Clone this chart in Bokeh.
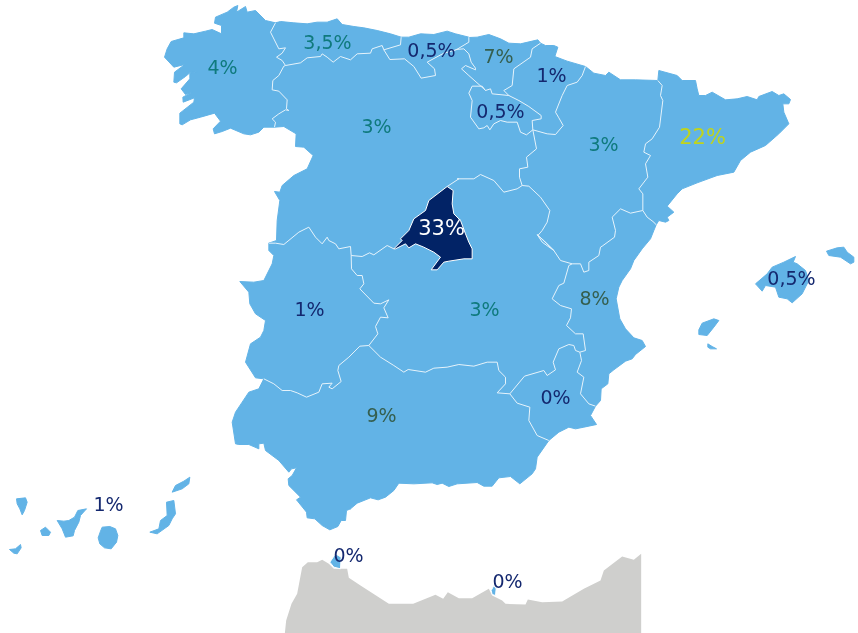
from bokeh.embed import file_html
from bokeh.resources import INLINE
from bokeh.plotting import figure
from bokeh.models import ColumnDataSource, Range1d
from bokeh.core.properties import value

def frame(ox, oy):
    return lambda pts: [(ox + a / 3, oy + b / 3) for a, b in pts]

Z1, Z2, Z3, Z4, Z5, Z6 = frame(150, 0), frame(450, 20), frame(220, 220), frame(500, 230), frame(0, 460), frame(220, 440)

def rev(s):
    return s[::-1]

# ---- coasts and frontiers
coast_gal = Z1([(372,380),(340,380),(325,395),(300,403),(280,400),(240,383),(215,393),(192,400),(188,385),(210,362),(192,338),(150,350),(120,358),(95,373),(88,370),(88,338),(130,305),(132,292),(98,305),(97,290),(125,275),(105,282),(92,265),(118,235),(118,218),(142,213),(118,217),(105,228),(78,247),(70,245),(72,215),(103,192),(70,200),(42,170),(50,145),(62,123),(100,112),(100,97),(130,100),(165,92),(185,87),(213,100),(213,75),(192,68),(195,50),(230,35),(250,20),(262,15),(258,35),(285,18),(290,35),(315,30),(345,60),(375,67)])
gal_ast = Z1([(375,67),(360,95),(385,145),(405,142),(395,158),(378,170),(395,180),(405,195)])
gal_cyl = Z1([(405,195),(400,197),(385,225),(367,240),(365,268),(385,272),(410,298),(408,325),(415,330),(405,328),(385,340),(365,355),(375,365),(372,380)])
coast_ast = Z1([(375,67),(390,63),(430,67),(470,70),(500,65),(530,65),(560,55),(575,72),(610,78),(640,82),(680,90),(720,100),(752,110)])
ast_can = Z1([(752,110),(750,133),(700,148)])
ast_cyl = Z1([(700,148),(695,135),(665,145),(660,158),(620,160),(600,178),(570,168),(548,185),(530,170),(515,160),(510,168),(470,172),(450,187),(405,195)])
coast_can = Z1([(752,110),(775,110),(810,100),(850,102),(890,92),(915,100),(955,110)])
can_bas = Z1([(955,110),(955,125),(917,148)])
can_cyl = Z1([(917,148),(880,158),(830,185),(852,205),(855,225),(812,233),(790,198),(762,175),(718,177),(700,148)])
coast_bas = Z2([(55,51),(80,50),(115,42),(150,55),(175,68),(210,70),(262,58),(270,68)])
bas_nav = Z2([(270,68),(245,85),(240,110),(190,145),(185,195),(160,210),(175,225)])
bas_rio = Z2([(175,225),(125,220),(120,205),(105,210)])
bas_cyl = Z2([(105,210),(100,205),(55,165),(33,145),(45,135),(75,148),(75,143),(62,125),(55,100),(40,85),(15,87)])
coast_nav = Z2([(270,68),(285,75),(310,75),(322,80),(313,108),(350,122),(405,138)])
nav_ara = Z2([(405,138),(395,165),(380,185),(350,195),(335,225),(315,275),(325,292),(338,315),(315,342),(290,340),(247,328)])
nav_rio = Z2([(175,225),(205,240),(235,258),(272,285),(272,295),(245,300),(247,328)])
rio_cyl = Z2([(247,328),(228,343),(210,335),(200,305),(170,305),(150,300),(130,310),(118,328),(110,315),(100,322),(85,325),(60,290),(65,240),(55,218),(65,197),(95,197),(105,210)])
coast_ara = Z2([(405,138),(430,158),(465,165),(475,155),(510,178),(555,178),(622,180)])
ara_cat = Z2([(622,180),(635,195),(630,225),(637,240),(627,320),(605,355),(585,370),(580,395),(600,405),(585,430),(592,470),(565,505),(577,520),(577,570)])
ara_val = Z2([(577,570),(540,578),(510,565),(485,590),(495,630),(492,650),(455,677)]) + Z4([(300,50),(295,75),(265,95),(265,120),(250,125),(240,100),(215,100)])
ara_clm = Z4([(215,100),(180,90),(160,60),(125,35),(110,12)]) + Z2([(310,690),(280,660),(262,645),(275,630),(290,605),(298,570),(270,530),(235,497),(215,495)])
ara_cyl = Z2([(215,495),(207,470),(207,445),(232,440),(228,410),(258,385),(247,328)])
cyl_clm2 = Z1([(890,558),(925,535)]) + Z2([(20,475),(70,475),(90,462),(130,480),(160,515),(200,505),(215,495)])
mad_west = Z1([(890,558),(835,600),(825,630),(790,655),(775,690),(750,715)]) + Z3([(545,60),(520,85)])
mad_east = Z1([(890,558),(908,570),(905,610),(910,640),(930,660)]) + Z3([(735,40),(745,65),(755,85),(755,115),(730,115),(685,122),(670,125),(650,148),(632,148),(660,110),(640,95),(610,80),(585,70),(565,82),(555,70),(525,85),(520,85)])
cyl_clm1 = Z3([(392,105),(425,108),(447,97),(460,103),(500,75),(520,85)])
ext_cyl = Z3([(392,105),(390,78),(355,85),(345,70),(325,60),(320,50),(305,70),(285,50),(265,20),(235,35),(190,72),(165,68),(145,68)])
ext_clm = Z3([(392,105),(393,145),(410,165),(425,165),(430,190),(418,205),(460,248),(480,250),(505,238),(490,262),(503,292),(480,290),(465,318),(472,340),(445,375)])
ext_and = Z3([(445,375),(418,377),(385,410),(355,435),(352,450),(362,483),(335,505),(325,500),(335,488),(305,490),(295,515),(258,530),(230,517),(210,510),(185,510),(160,490),(130,475)])
ext_por = Z3([(145,68),(145,90),(160,105),(155,130),(130,180),(100,185),(58,183),(85,215),(88,250),(105,280),(135,300),(130,330),(120,350),(90,370),(75,425),(105,472),(130,475)])
cyl_por = Z1([(372,380),(400,378),(437,400),(435,438),(460,440),(488,465),(470,505),(430,525),(395,555),(388,575),(372,573),(388,600),(380,660),(378,720)]) + Z3([(145,68)])
and_clm = Z3([(445,375),(480,410),(520,435),(550,455),(563,447),(615,455),(640,443),(680,440),(715,432),(760,437),(800,425),(830,425),(835,450),(855,470),(855,490),(830,517),(868,520)])
coast_and = Z3([(130,475),(115,505),(85,515),(65,545),(45,575),(35,605),(45,670),(55,672),(85,672),(115,685),(115,670),(130,668),(135,690),(175,720)]) + Z6([(205,95),(213,85),(228,82),(215,105),(203,115),(205,135),(240,170),(228,178),(258,215),(260,232),(283,235),(305,255),(328,268),(352,258),(362,240),(375,240),(378,210),(390,205),(375,198),(390,205),(410,188),(450,172),(473,178),(495,170),(520,150),(535,128),(580,130),(635,127),(650,132),(665,128),(685,138),(710,130),(770,126),(790,137),(815,137),(835,112),(870,108),(898,130),(935,100),(945,85),(950,50),(985,0)])
and_mur = Z4([(145,630),(110,615),(85,570),(88,530),(50,518),(28,490)])
clm_mur = Z4([(28,490),(72,437),(130,420),(140,435),(165,418),(158,395),(175,355),(205,342),(220,345),(225,360),(238,365)])
clm_val = Z4([(215,100),(205,105),(190,158),(175,165),(155,205),(180,225),(213,235),(210,262),(198,285),(225,310),(248,310),(255,360),(238,365)])
mur_val = Z4([(238,365),(243,390),(230,425),(250,440),(240,490),(265,520),(285,527)])
coast_mur = Z4([(285,527),(270,555),(288,582),(250,590),(225,595),(205,590),(175,605),(145,630)])
coast_val = Z4([(285,527),(300,510),(302,475),(322,460),(325,430),(340,418),(375,392),(395,385),(405,372),(435,348),(425,330),(400,322),(375,295),(358,265),(347,205),(355,170),(365,150),(390,115),(400,90),(425,55),(450,25),(460,0)]) + Z2([(617,613)])
cat_val = Z2([(617,613),(610,605),(590,590),(577,570)])
coast_cat = Z2([(622,180),(625,150),(680,165),(695,180),(735,180),(740,205),(745,225),(765,225),(785,215),(825,238),(860,235),(890,228),(920,238),(925,228),(965,213),(985,225),(1000,220),(1020,237),(1015,250),(997,250),(1000,275),(1015,310),(985,340),(945,375),(900,395),(870,420),(850,455),(800,465),(740,487),(695,505),(680,520),(650,557),(670,575),(650,590),(655,600),(645,605),(625,600),(617,613)])

# ---- regions built from the shared frontiers
regions = {
    "Galicia": coast_gal + gal_ast + gal_cyl,
    "Asturias": coast_ast + ast_can + ast_cyl + rev(gal_ast),
    "Cantabria": coast_can + can_bas + can_cyl + rev(ast_can),
    "Pais Vasco": coast_bas + bas_nav + bas_rio + bas_cyl + rev(can_bas),
    "Navarra": coast_nav + nav_ara + rev(nav_rio) + rev(bas_nav),
    "La Rioja": rev(bas_rio) + nav_rio + rio_cyl,
    "Aragon": coast_ara + ara_cat + ara_val + ara_clm + ara_cyl + rev(nav_ara),
    "Cataluna": coast_cat + cat_val + rev(ara_cat),
    "Castilla y Leon": cyl_por + rev(ext_cyl) + cyl_clm1 + rev(mad_west) + cyl_clm2 + ara_cyl + rio_cyl + bas_cyl + can_cyl + ast_cyl + gal_cyl,
    "Castilla-La Mancha": rev(cyl_clm2) + mad_east + rev(cyl_clm1) + ext_clm + and_clm + clm_mur + rev(clm_val) + ara_clm,
    "Extremadura": ext_clm + ext_and + rev(ext_por) + rev(ext_cyl),
    "Andalucia": coast_and + and_mur + rev(and_clm) + ext_and,
    "Murcia": clm_mur + mur_val + coast_mur + and_mur,
    "Valencia": ara_val + clm_val + mur_val + coast_val + cat_val,
    "Mallorca": Z4([(765,160),(800,130),(815,110),(850,95),(885,78),(878,95),(890,100),(915,120),(925,150),(905,190),(875,217),(860,205),(835,200),(825,170),(795,165),(785,182)]),
    "Menorca": Z4([(978,62),(1010,52),(1030,50),(1040,65),(1060,80),(1060,95),(1050,100),(1020,80),(985,75)]),
    "Ibiza": Z4([(595,298),(605,278),(640,265),(655,270),(640,290),(620,315),(595,312)]),
    "Formentera": Z4([(622,340),(635,348),(648,355),(630,355),(622,350)]),
    "La Palma": Z5([(48,115),(75,112),(80,125),(72,150),(65,163),(58,145),(50,130)]),
    "El Hierro": Z5([(27,267),(45,265),(60,252),(62,262),(50,280),(40,278)]),
    "La Gomera": Z5([(120,210),(135,200),(150,215),(145,225),(125,225)]),
    "Tenerife": Z5([(170,180),(190,182),(205,180),(222,170),(232,150),(258,145),(240,165),(235,185),(222,210),(218,226),(195,230),(185,205)]),
    "Gran Canaria": Z5([(293,232),(300,212),(305,200),(328,198),(345,205),(352,225),(348,245),(332,265),(312,262),(298,250)]),
    "Fuerteventura": Z5([(448,215),(475,205),(480,180),(500,165),(498,125),(520,120),(525,160),(515,175),(505,195),(470,220)]),
    "Lanzarote": Z5([(515,95),(525,75),(550,62),(568,50),(565,70),(545,85)]),
}
ceuta = Z6([(328,365),(345,340),(362,350),(360,385),(340,380)])
melilla = Z6([(812,450),(820,435),(827,445),(825,465),(815,462)])
madrid = mad_east + rev(mad_west)
morocco = Z6([(193,579),(197,540),(213,490),(230,460),(245,380),(262,365),(290,365),(305,358),(325,370),(340,385),(380,385),(385,412),(420,435),(505,490),(578,490),(645,463),(668,475),(682,455),(715,473),(755,473),(805,445),(815,465),(845,480),(855,490),(915,492),(922,477),(965,485),(1025,483),(1090,445),(1140,420),(1150,390),(1205,348),(1240,358),(1262,340),(1262,579)])

# the inland frontiers, drawn on top of the fills (the coast has no white edge)
frontiers = [gal_ast, gal_cyl, ast_can, ast_cyl, can_bas, can_cyl, bas_nav, bas_rio, bas_cyl, nav_ara, nav_rio,
             rio_cyl, ara_cat, ara_val, ara_clm, ara_cyl, cyl_clm2, cyl_clm1, ext_cyl, ext_clm, ext_and,
             and_clm, and_mur, clm_mur, clm_val, mur_val, cat_val]

# ---- share per region
label_text = ["4%","3,5%","0,5%","7%","1%","0,5%","3%","3%","22%","33%","1%","3%","8%","0,5%","9%","0%","1%","0%","0%"]
label_x = [222,327,431,498,551,500,376,603,702,441,309,484,594,791,381,555,108,348,507]
label_y = [66,41,49,55,74,110,125,143,136,227,308,308,297,277,414,396,503,554,580]
label_color = ["#0f7a7d","#0f7a7d","#14286f","#355f4f","#14286f","#14286f","#0f7a7d","#0f7a7d","#c0d41c","#ffffff","#14286f","#0f7a7d","#355f4f","#14286f","#355f4f","#14286f","#14286f","#14286f","#14286f"]
label_size = ["19px"]*8 + ["21px","21px"] + ["19px"]*9

LAND, DARK, GREY = "#62b3e6", "#022366", "#cfcfcd"

p = figure(width=858, height=633, output_backend="svg", toolbar_location=None,
           x_range=Range1d(0, 858), y_range=Range1d(633, 0), min_border=0,
           background_fill_color="white", border_fill_color="white", outline_line_color=None)
p.styles = {"position": "fixed", "left": "0", "top": "0"}
p.axis.visible = False
p.grid.visible = False

p.patch([q[0] for q in morocco], [q[1] for q in morocco], fill_color=GREY, line_color=None)
names = list(regions)
p.patches("xs", "ys", source=ColumnDataSource(dict(
    xs=[[q[0] for q in regions[n]] for n in names],
    ys=[[q[1] for q in regions[n]] for n in names], name=names)),
    fill_color=LAND, line_color=LAND, line_width=1)
p.multi_line([[q[0] for q in s] for s in frontiers], [[q[1] for q in s] for s in frontiers],
             line_color="#e6f3fb", line_width=1)
for town in (ceuta, melilla):
    p.patch([q[0] for q in town], [q[1] for q in town], fill_color=LAND, line_color="white", line_width=1)
p.patch([q[0] for q in madrid], [q[1] for q in madrid], fill_color=DARK, line_color="white", line_width=1)

p.text("x", "y", text="t", source=ColumnDataSource(dict(x=label_x, y=label_y, t=label_text, c=label_color, s=label_size)),
       text_color="c", text_font_size="s", text_font=value("DejaVu Sans"),
       text_align="center", text_baseline="middle")

open("out.html", "w").write(file_html(p, INLINE))
